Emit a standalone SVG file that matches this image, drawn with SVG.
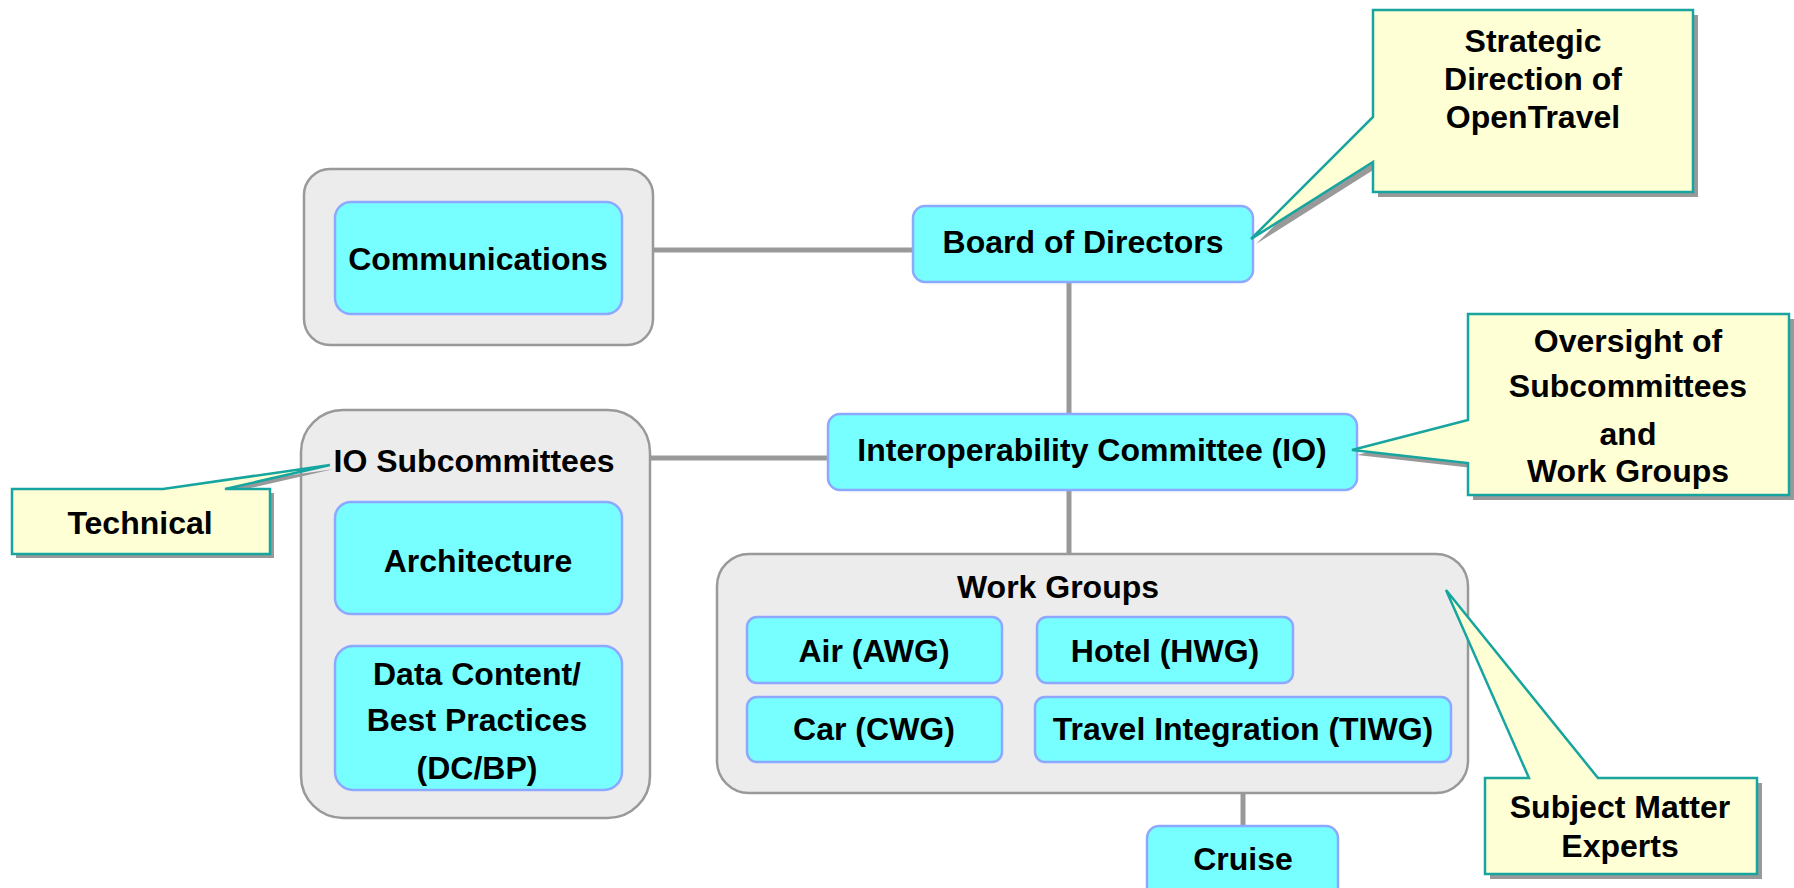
<svg xmlns="http://www.w3.org/2000/svg" width="1794" height="888" viewBox="0 0 1794 888">
<style>
text{font-family:"Liberation Sans",Arial,sans-serif;font-weight:bold;font-size:32px;fill:#000;text-anchor:middle}
.grp{fill:#ececec;stroke:#999;stroke-width:2.5}
.box{fill:#77ffff;stroke:#8ea8ff;stroke-width:2.5}
.call{fill:#ffffd6;stroke:#17a59f;stroke-width:2.5;stroke-linejoin:miter}
.shadow{fill:#999;stroke:none}
.conn{stroke:#999;stroke-width:5;fill:none}
</style>
<rect width="1794" height="888" fill="#fff"/>
<g id="connectors">
<line class="conn" x1="653" y1="250" x2="913" y2="250"/>
<line class="conn" x1="1069" y1="282" x2="1069" y2="414"/>
<line class="conn" x1="650" y1="458" x2="828" y2="458"/>
<line class="conn" x1="1069" y1="490" x2="1069" y2="554"/>
<line class="conn" x1="1243" y1="762" x2="1243" y2="826"/>
</g>
<g id="communications-group">
<rect class="grp" x="304" y="169" width="349" height="176" rx="26"/>
<g id="communications">
<rect class="box" x="335" y="202" width="287" height="112" rx="16"/>
<text x="478" y="270">Communications</text>
</g>
</g>
<g id="board">
<rect class="box" x="913" y="206" width="340" height="76" rx="12"/>
<text x="1083" y="253">Board of Directors</text>
</g>
<g id="io">
<rect class="box" x="828" y="414" width="529" height="76" rx="12"/>
<text x="1092" y="461">Interoperability Committee (IO)</text>
</g>
<g id="io-subcommittees">
<rect class="grp" x="301" y="410" width="349" height="408" rx="42"/>
<text x="474" y="472">IO Subcommittees</text>
</g>
<g id="architecture">
<rect class="box" x="335" y="502" width="287" height="112" rx="16"/>
<text x="478" y="572">Architecture</text>
</g>
<g id="dcbp">
<rect class="box" x="335" y="646" width="287" height="144" rx="18"/>
<text x="477" y="685">Data Content/</text>
<text x="477" y="731">Best Practices</text>
<text x="477" y="779">(DC/BP)</text>
</g>
<g id="work-groups">
<rect class="grp" x="717" y="554" width="751" height="239" rx="32"/>
<text x="1058" y="598">Work Groups</text>
</g>
<g id="air">
<rect class="box" x="747" y="617" width="255" height="66" rx="10"/>
<text x="874" y="662">Air (AWG)</text>
</g>
<g id="hotel">
<rect class="box" x="1037" y="617" width="256" height="66" rx="10"/>
<text x="1165" y="662">Hotel (HWG)</text>
</g>
<g id="car">
<rect class="box" x="747" y="697" width="255" height="65" rx="10"/>
<text x="874" y="740">Car (CWG)</text>
</g>
<g id="tiwg">
<rect class="box" x="1035" y="697" width="416" height="65" rx="10"/>
<text x="1243" y="740">Travel Integration (TIWG)</text>
</g>
<g id="cruise">
<rect class="box" x="1147" y="826" width="191" height="80" rx="12"/>
<text x="1243" y="870">Cruise</text>
</g>
<g id="callout-strategic">
<path class="shadow" transform="translate(5,5)" d="M1373,10 H1693 V192 H1373 V162 L1251,239 L1373,117 Z"/>
<path class="call" d="M1373,10 H1693 V192 H1373 V162 L1251,239 L1373,117 Z"/>
<text x="1533" y="52">Strategic</text>
<text x="1533" y="90">Direction of</text>
<text x="1533" y="128">OpenTravel</text>
</g>
<g id="callout-oversight">
<path class="shadow" transform="translate(5,5)" d="M1468,314 H1789 V495 H1468 V463 L1352,450 L1468,420 Z"/>
<path class="call" d="M1468,314 H1789 V495 H1468 V463 L1352,450 L1468,420 Z"/>
<text x="1628" y="352">Oversight of</text>
<text x="1628" y="397">Subcommittees</text>
<text x="1628" y="445">and</text>
<text x="1628" y="482">Work Groups</text>
</g>
<g id="callout-technical">
<path class="shadow" transform="translate(4,4)" d="M12,489 H163 L330,465 L225,489 H270 V554 H12 Z"/>
<path class="call" d="M12,489 H163 L330,465 L225,489 H270 V554 H12 Z"/>
<text x="140" y="534">Technical</text>
</g>
<g id="callout-sme">
<path class="shadow" transform="translate(5,5)" d="M1485,778 H1529 L1446,590 L1598,778 H1757 V874 H1485 Z"/>
<path class="call" d="M1485,778 H1529 L1446,590 L1598,778 H1757 V874 H1485 Z"/>
<text x="1620" y="818">Subject Matter</text>
<text x="1620" y="857">Experts</text>
</g>
</svg>
